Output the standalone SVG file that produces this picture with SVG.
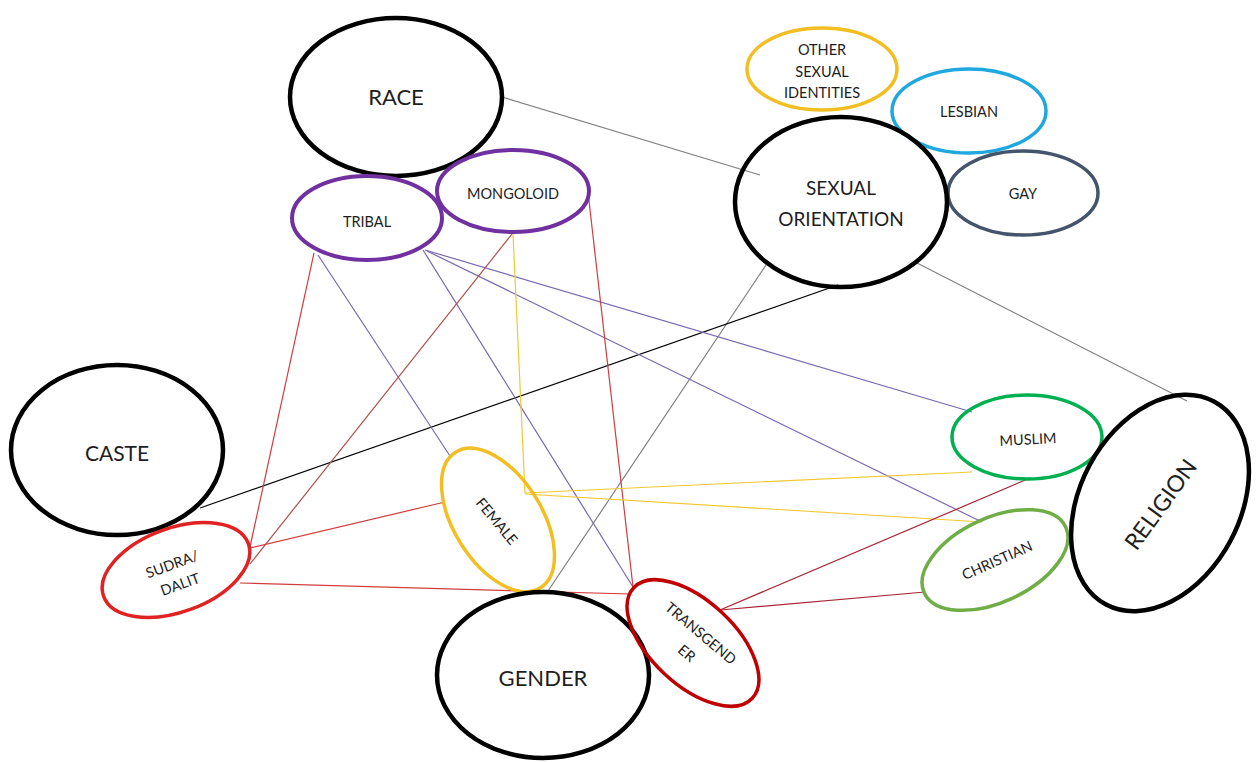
<svg xmlns="http://www.w3.org/2000/svg" width="1256" height="762" viewBox="0 0 1256 762">
<style>
  text { font-family: Lato, "Open Sans", "Liberation Sans", sans-serif; fill: #1e1e1e; text-anchor: middle; dominant-baseline: central; }
  .big { font-size: 22px; }
  .mid { font-size: 19px; }
  .sm { font-size: 14.5px; }
  ellipse { fill: none; }
  .main { stroke: #000; stroke-width: 4.5; }
  .purple { stroke: #7030A0; stroke-width: 4; }
  .c { fill: none; stroke-width: 1.2; }
  .gray { stroke: #808080; }
  .blk { stroke: #000; }
  .red { stroke: #D23C3C; }
  .brn { stroke: #B0504C; }
  .dred { stroke: #A82535; }
  .vio { stroke: #7A68B0; }
  .yel { stroke: #F2C832; }
</style>
<rect width="1256" height="762" fill="#fff"/>
<g id="connectors">
  <line class="c gray" x1="502" y1="97" x2="760" y2="175"/>
  <line class="c gray" x1="917" y1="263" x2="1187" y2="401"/>
  <line class="c gray" x1="768" y1="262" x2="548" y2="591"/>
  <line class="c blk" x1="838" y1="285" x2="200" y2="508"/>
  <line class="c red" x1="314" y1="253" x2="250" y2="547"/>
  <line class="c vio" x1="318" y1="255" x2="450" y2="456"/>
  <line class="c vio" x1="423" y1="250" x2="633" y2="587"/>
  <line class="c vio" x1="425" y1="250" x2="972" y2="412"/>
  <line class="c vio" x1="427" y1="251" x2="982" y2="522"/>
  <line class="c brn" x1="512" y1="234" x2="250" y2="564"/>
  <line class="c yel" x1="513" y1="234" x2="525" y2="493"/>
  <line class="c red" x1="588" y1="192" x2="633" y2="587"/>
  <line class="c yel" x1="525" y1="493" x2="972" y2="472"/>
  <line class="c yel" x1="525" y1="494" x2="982" y2="522"/>
  <line class="c red" x1="250" y1="548" x2="445" y2="502"/>
  <line class="c red" x1="240" y1="583" x2="630" y2="594"/>
  <line class="c dred" x1="720" y1="610" x2="1030" y2="478"/>
  <line class="c dred" x1="720" y1="610" x2="925" y2="592"/>
</g>
<g id="race">
  <ellipse class="main" cx="396" cy="97" rx="106" ry="79"/>
  <text class="big" x="396" y="96">RACE</text>
</g>
<g id="tribal">
  <ellipse class="purple" cx="367" cy="218" rx="75" ry="42"/>
  <text class="sm" x="367" y="221">TRIBAL</text>
</g>
<g id="mongoloid">
  <ellipse class="purple" cx="513" cy="191" rx="76" ry="41"/>
  <text class="sm" x="513" y="193">MONGOLOID</text>
</g>
<g id="other-sexual-identities">
  <ellipse cx="822" cy="69" rx="75" ry="41" stroke="#F2BE22" stroke-width="3.5"/>
  <text class="sm" x="822" y="49">OTHER</text>
  <text class="sm" x="822" y="71">SEXUAL</text>
  <text class="sm" x="822" y="92">IDENTITIES</text>
</g>
<g id="lesbian">
  <ellipse cx="969" cy="111" rx="77" ry="42" stroke="#1FA8DF" stroke-width="3.5"/>
  <text class="sm" x="969" y="111">LESBIAN</text>
</g>
<g id="gay">
  <ellipse cx="1023" cy="193" rx="75" ry="42" stroke="#44546A" stroke-width="3.5"/>
  <text class="sm" x="1023" y="193">GAY</text>
</g>
<g id="sexual-orientation">
  <ellipse class="main" cx="841" cy="202" rx="106" ry="85"/>
  <text class="mid" x="841" y="187">SEXUAL</text>
  <text class="mid" x="841" y="218">ORIENTATION</text>
</g>
<g id="caste">
  <ellipse class="main" cx="117" cy="450" rx="106" ry="85"/>
  <text class="mid" x="117" y="452" style="font-size:21px">CASTE</text>
</g>
<g id="sudra-dalit">
  <ellipse cx="176" cy="570" rx="77" ry="42" transform="rotate(-20 176 570)" stroke="#E02222" stroke-width="3.5"/>
  <text class="sm" transform="translate(172 564) rotate(-20)">SUDRA/</text>
  <text class="sm" transform="translate(180 584) rotate(-20)">DALIT</text>
</g>
<g id="female">
  <ellipse cx="498" cy="520" rx="80" ry="44" transform="rotate(58 498 520)" stroke="#F2BE22" stroke-width="3.5"/>
  <text class="sm" transform="translate(497 521) rotate(50)">FEMALE</text>
</g>
<g id="gender">
  <ellipse class="main" cx="543" cy="675" rx="106" ry="83"/>
  <text class="big" x="543" y="677">GENDER</text>
</g>
<g id="transgender">
  <ellipse cx="693" cy="643" rx="81" ry="42" transform="rotate(43 693 643)" stroke="#C00000" stroke-width="3.5"/>
  <text class="sm" transform="translate(701 633) rotate(40)">TRANSGEND</text>
  <text class="sm" transform="translate(687 653) rotate(40)">ER</text>
</g>
<g id="muslim">
  <ellipse cx="1027" cy="437" rx="75" ry="42" stroke="#00B050" stroke-width="3.5"/>
  <text class="sm" transform="translate(1028 439) rotate(-3)">MUSLIM</text>
</g>
<g id="christian">
  <ellipse cx="995" cy="560" rx="78" ry="42" transform="rotate(-25 995 560)" stroke="#70AD47" stroke-width="3.5"/>
  <text class="sm" transform="translate(997 560) rotate(-24)">CHRISTIAN</text>
</g>
<g id="religion">
  <ellipse class="main" cx="1160" cy="503" rx="115" ry="80" transform="rotate(-62 1160 503)"/>
  <text class="big" transform="translate(1160 504) rotate(-54)" style="font-size:23px">RELIGION</text>
</g>
</svg>
